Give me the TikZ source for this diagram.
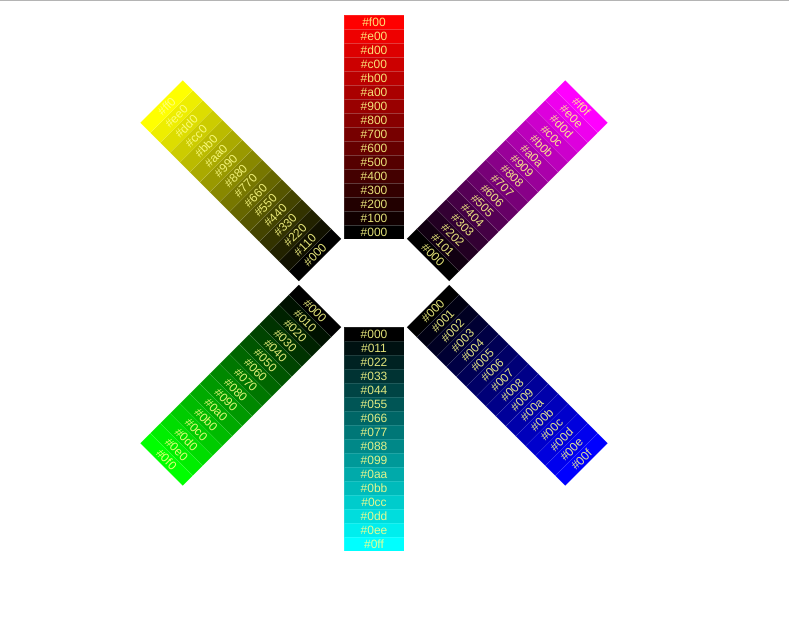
\documentclass[tikz,border=0pt]{standalone}
\usepackage{fontspec}
\setmainfont{Liberation Sans}
\definecolor{labelc}{RGB}{255,255,136}
\definecolor{topline}{RGB}{180,180,180}
\tikzset{
  cellbox/.style={fill=cellc, draw=white, draw opacity=0.12, line width=0.4pt},
  celltext/.style={text=labelc, text opacity=0.88, font=\fontsize{12}{14}\selectfont, inner sep=0pt}
}
\begin{document}
\begin{tikzpicture}[x=1pt,y=1pt]
\useasboundingbox (0,0) rectangle (789,633);
\fill[white] (0,0) rectangle (789,633);
\draw[line width=1.5pt, draw=topline] (0,632.6) -- (789,632.6);
% red (up)
\begin{scope}[shift={(374,394)}]
\foreach \k/\h in {0/0,1/1,2/2,3/3,4/4,5/5,6/6,7/7,8/8,9/9,10/a,11/b,12/c,13/d,14/e,15/f}{
  \pgfmathtruncatemacro\v{17*\k}
  \definecolor{cellc}{RGB}{\v,0,0}
  \draw[cellbox] (-30,14*\k) rectangle (30,14*\k+14);
  \node[celltext] (r\k) at (0,14*\k+7) {\#\h00};
}
\end{scope}
% yellow (up-left)
\begin{scope}[shift={(320,373)}, rotate=45, transform shape]
\foreach \k/\h in {0/0,1/1,2/2,3/3,4/4,5/5,6/6,7/7,8/8,9/9,10/a,11/b,12/c,13/d,14/e,15/f}{
  \pgfmathtruncatemacro\v{17*\k}
  \definecolor{cellc}{RGB}{\v,\v,0}
  \draw[cellbox] (-30,14*\k) rectangle (30,14*\k+14);
  \node[celltext] (y\k) at (0,14*\k+7) {\#\h\h0};
}
\end{scope}
% magenta (up-right)
\begin{scope}[shift={(428,373)}, rotate=-45, transform shape]
\foreach \k/\h in {0/0,1/1,2/2,3/3,4/4,5/5,6/6,7/7,8/8,9/9,10/a,11/b,12/c,13/d,14/e,15/f}{
  \pgfmathtruncatemacro\v{17*\k}
  \definecolor{cellc}{RGB}{\v,0,\v}
  \draw[cellbox] (-30,14*\k) rectangle (30,14*\k+14);
  \node[celltext] (m\k) at (0,14*\k+7) {\#\h0\h};
}
\end{scope}
% cyan (down)
\begin{scope}[shift={(374,306)}]
\foreach \k/\h in {0/0,1/1,2/2,3/3,4/4,5/5,6/6,7/7,8/8,9/9,10/a,11/b,12/c,13/d,14/e,15/f}{
  \pgfmathtruncatemacro\v{17*\k}
  \definecolor{cellc}{RGB}{0,\v,\v}
  \draw[cellbox] (-30,-14*\k) rectangle (30,-14*\k-14);
  \node[celltext] (c\k) at (0,-14*\k-7) {\#0\h\h};
}
\end{scope}
% green (down-left)
\begin{scope}[shift={(320,327)}, rotate=-45, transform shape]
\foreach \k/\h in {0/0,1/1,2/2,3/3,4/4,5/5,6/6,7/7,8/8,9/9,10/a,11/b,12/c,13/d,14/e,15/f}{
  \pgfmathtruncatemacro\v{17*\k}
  \definecolor{cellc}{RGB}{0,\v,0}
  \draw[cellbox] (-30,-14*\k) rectangle (30,-14*\k-14);
  \node[celltext] (g\k) at (0,-14*\k-7) {\#0\h0};
}
\end{scope}
% blue (down-right)
\begin{scope}[shift={(428,327)}, rotate=45, transform shape]
\foreach \k/\h in {0/0,1/1,2/2,3/3,4/4,5/5,6/6,7/7,8/8,9/9,10/a,11/b,12/c,13/d,14/e,15/f}{
  \pgfmathtruncatemacro\v{17*\k}
  \definecolor{cellc}{RGB}{0,0,\v}
  \draw[cellbox] (-30,-14*\k) rectangle (30,-14*\k-14);
  \node[celltext] (b\k) at (0,-14*\k-7) {\#00\h};
}
\end{scope}
\end{tikzpicture}
\end{document}
